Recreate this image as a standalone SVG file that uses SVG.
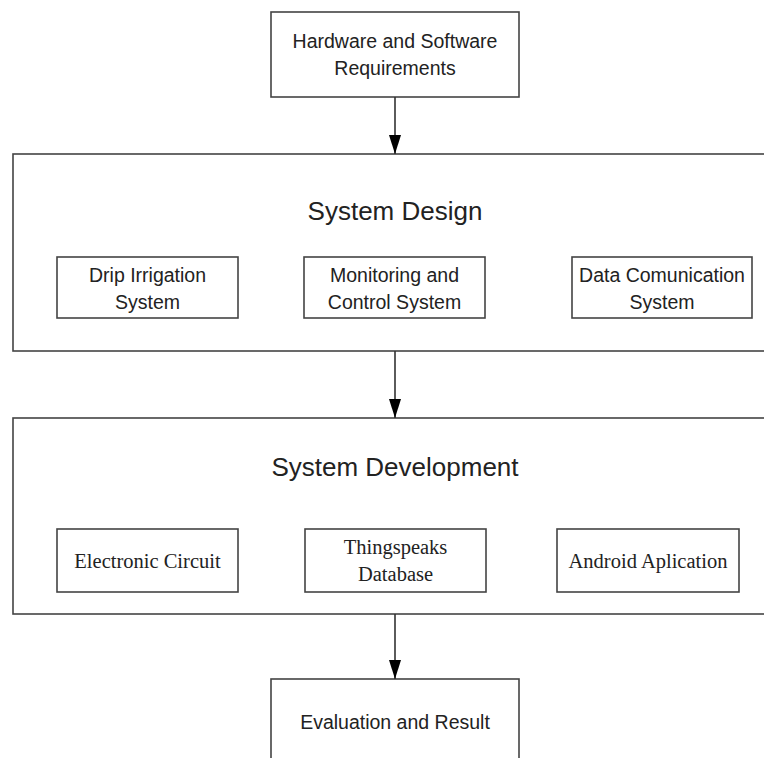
<svg xmlns="http://www.w3.org/2000/svg" width="764" height="758" viewBox="0 0 764 758">
<defs>
<style>
.box{fill:#fff;stroke:#444;stroke-width:1.6}
.sans{font-family:"Liberation Sans",Arial,sans-serif;fill:#222;text-anchor:middle}
.serif{font-family:"Liberation Serif","Times New Roman",serif;fill:#222;text-anchor:middle}
.t19{font-size:19.5px}
.title{font-size:26px}
.s20{font-size:20.5px}
.conn{stroke:#333;stroke-width:1.6;fill:none;marker-end:url(#arr)}
</style>
<marker id="arr" markerUnits="userSpaceOnUse" markerWidth="19" markerHeight="12" refX="19" refY="6" orient="auto">
<path d="M0,0 L19,6 L0,12 z" fill="#000"/>
</marker>
</defs>
<rect width="764" height="758" fill="#fff"/>
<g id="design">
<rect class="box" x="13" y="154" width="760" height="197"/>
<text class="sans title" x="395" y="220">System Design</text>
</g>
<g id="development">
<rect class="box" x="13" y="418" width="760" height="196"/>
<text class="sans title" x="395" y="476">System Development</text>
</g>
<g id="requirements">
<rect class="box" x="271" y="12" width="248" height="85"/>
<text class="sans t19" x="395" y="48">Hardware and Software</text>
<text class="sans t19" x="395" y="75">Requirements</text>
</g>
<g id="drip">
<rect class="box" x="57" y="257" width="181" height="61"/>
<text class="sans t19" x="147.5" y="282">Drip Irrigation</text>
<text class="sans t19" x="147.5" y="309">System</text>
</g>
<g id="monitoring">
<rect class="box" x="304" y="257" width="181" height="61"/>
<text class="sans t19" x="394.5" y="282">Monitoring and</text>
<text class="sans t19" x="394.5" y="309">Control System</text>
</g>
<g id="datacom">
<rect class="box" x="572" y="257" width="180" height="61"/>
<text class="sans t19" x="662" y="282">Data Comunication</text>
<text class="sans t19" x="662" y="309">System</text>
</g>
<g id="electronic">
<rect class="box" x="57" y="529" width="181" height="63"/>
<text class="serif s20" x="147.5" y="568">Electronic Circuit</text>
</g>
<g id="thingspeaks">
<rect class="box" x="305" y="529" width="181" height="63"/>
<text class="serif s20" x="395.5" y="554">Thingspeaks</text>
<text class="serif s20" x="395.5" y="581">Database</text>
</g>
<g id="android">
<rect class="box" x="557" y="529" width="182" height="63"/>
<text class="serif s20" x="648" y="568">Android Aplication</text>
</g>
<g id="evaluation">
<rect class="box" x="271" y="679" width="248" height="100"/>
<text class="sans t19" x="395" y="729">Evaluation and Result</text>
</g>
<g id="connectors">
<line class="conn" x1="395" y1="97" x2="395" y2="154"/>
<line class="conn" x1="395" y1="351" x2="395" y2="418"/>
<line class="conn" x1="395" y1="614" x2="395" y2="679"/>
</g>
</svg>
